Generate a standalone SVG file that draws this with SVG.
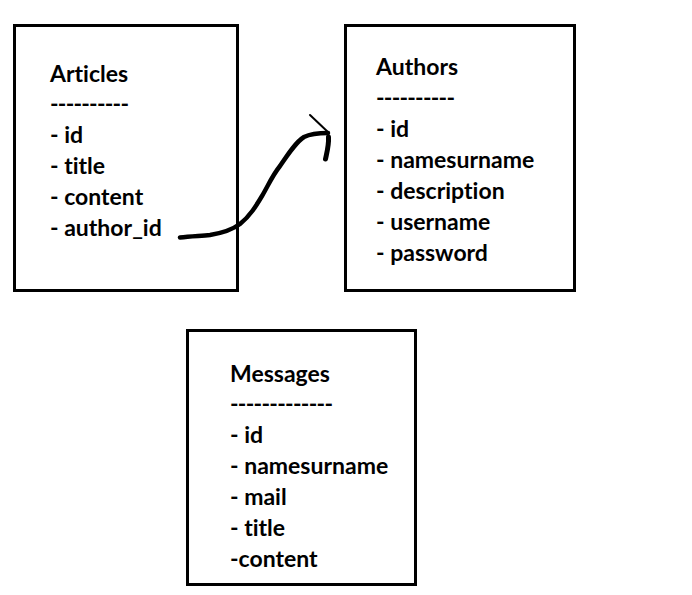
<svg xmlns="http://www.w3.org/2000/svg" width="692" height="595" viewBox="0 0 692 595">
<style>
.box{fill:none;stroke:#000;stroke-width:3}
text{font-family:Lato,"Open Sans","Liberation Sans",sans-serif;font-weight:bold;font-size:23px;font-variant-ligatures:none;font-feature-settings:"liga" 0;fill:#000}
.ink{fill:none;stroke:#000;stroke-linecap:round;stroke-linejoin:round}
</style>
<rect width="692" height="595" fill="#fff"/>
<g id="articles">
<rect class="box" x="14.5" y="25.5" width="223" height="265"/>
<text x="50" y="82">Articles</text>
<text x="50" y="112" textLength="79">----------</text>
<text x="50" y="143">- id</text>
<text x="50" y="174">- title</text>
<text x="50" y="205">- content</text>
<text x="50" y="236">- author_id</text>
</g>
<g id="authors">
<rect class="box" x="345.5" y="25.5" width="229" height="265"/>
<text x="376" y="75">Authors</text>
<text x="376" y="106" textLength="79">----------</text>
<text x="376" y="137">- id</text>
<text x="376" y="168">- namesurname</text>
<text x="376" y="199">- description</text>
<text x="376" y="230">- username</text>
<text x="376" y="261">- password</text>
</g>
<g id="messages">
<rect class="box" x="187.5" y="330.5" width="228" height="254"/>
<text x="230" y="382">Messages</text>
<text x="230" y="412" textLength="103">-------------</text>
<text x="230" y="443">- id</text>
<text x="230" y="474">- namesurname</text>
<text x="230" y="505">- mail</text>
<text x="230" y="536">- title</text>
<text x="230" y="567">-content</text>
</g>
<g id="connectors">
<path class="ink" stroke-width="4.5" d="M180,237.5 C190,236 200,236 210,235 C222,233 232,230 240,224 C250,216 256,206 262,196 C268,186 272,176 280,166 C288,154 296,142 304,137 C312,133 320,133 328,133"/>
<path class="ink" stroke-width="2" d="M310,115 L329,133"/>
<path class="ink" stroke-width="5" d="M328.5,137 C329,145 327,152 325.5,159"/>
</g>
</svg>
